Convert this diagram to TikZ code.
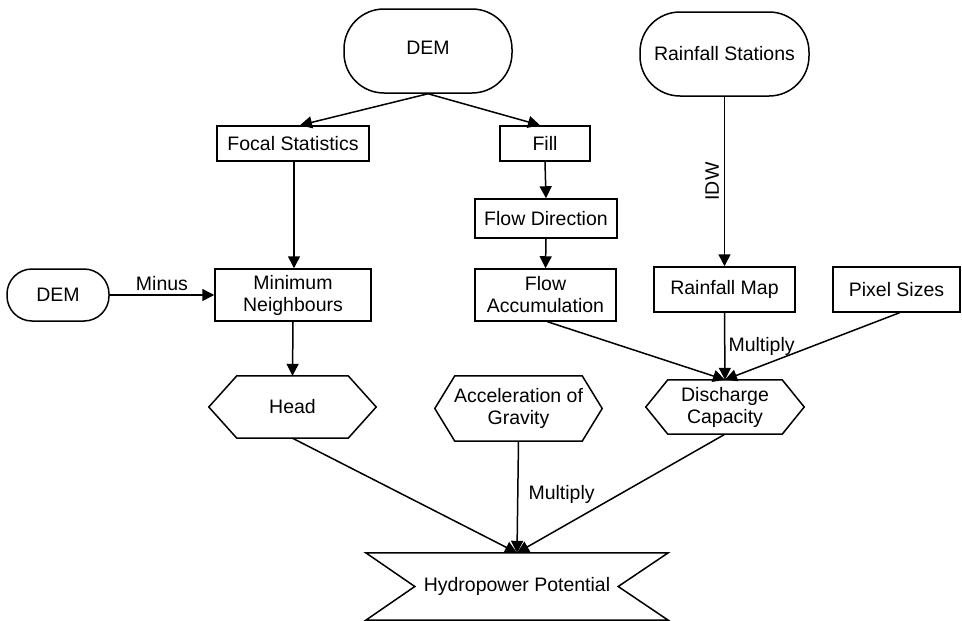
\documentclass[tikz,border=0pt]{standalone}
\usepackage{fontspec}
\setmainfont{Liberation Sans}
\usetikzlibrary{arrows.meta,calc}
\begin{document}
\begin{tikzpicture}[x=1pt,y=-1pt,
  every node/.style={font=\fontsize{19.5}{22}\selectfont, align=center, inner sep=0pt},
  term/.style={draw, line width=1.5pt, rounded corners=#1},
  box/.style={draw, line width=1.5pt, rectangle},
  hexa/.style={line width=1.5pt},
  conn/.style={line width=1.5pt, -{Triangle[length=12pt,width=12pt]}}
]
\useasboundingbox[fill=white] (0,0) rectangle (962,621);

% terminals
\node[term=40pt, minimum width=168pt, minimum height=84pt] (dem) at (428,51) {\raisebox{6pt}{DEM}};
\node[term=40pt, minimum width=169pt, minimum height=84pt] (rs) at (724.5,54) {Rainfall Stations};
\node[term=25pt, minimum width=102pt, minimum height=52pt] (demb) at (58,295) {DEM};

% boxes
\node[box, minimum width=152pt, minimum height=35pt] (focal) at (293,143.5) {Focal Statistics};
\node[box, minimum width=90pt, minimum height=35pt] (fill) at (545,143.5) {Fill};
\node[box, minimum width=142pt, minimum height=39pt] (fdir) at (546,218.5) {Flow Direction};
\node[box, minimum width=156pt, minimum height=52pt] (minn) at (293,295) {Minimum\\Neighbours};
\node[box, minimum width=141pt, minimum height=52pt] (facc) at (545.5,295) {Flow\\Accumulation};
\node[box, minimum width=141pt, minimum height=45pt] (rmap) at (724.5,289.5) {Rainfall Map};
\node[box, minimum width=127pt, minimum height=45pt] (pix) at (896.5,289.5) {Pixel Sizes};

% hexagons
\node[minimum width=167pt, minimum height=62pt] (head) at (292.5,407) {Head};
\node[minimum width=167pt, minimum height=65pt] (acc) at (518.5,408.5) {Acceleration of\\Gravity};
\node[minimum width=158pt, minimum height=54pt] (dc) at (725,407) {Discharge\\Capacity};
\foreach \n/\d in {head/28, acc/20, dc/22}{
  \draw[hexa] (\n.west) -- ([xshift=\d pt]\n.north west) -- ([xshift=-\d pt]\n.north east)
    -- (\n.east) -- ([xshift=-\d pt]\n.south east) -- ([xshift=\d pt]\n.south west) -- cycle;
}

% banner
\node[minimum width=302pt, minimum height=67pt] (hp) at (517,586.5) {Hydropower Potential};
\draw[hexa] (hp.north west) -- (hp.north east) -- ([xshift=-50pt]hp.east) -- (hp.south east)
  -- (hp.south west) -- ([xshift=49pt]hp.west) -- cycle;

% connectors
\draw[conn] (dem.south) -- ([xshift=7pt]focal.north);
\draw[conn] (dem.south) -- ([xshift=-5pt]fill.north);
\draw[conn] (fill.south) -- (fdir.north);
\draw[conn] (fdir.south) -- (facc.north);
\draw[conn] ([xshift=1pt]focal.south) -- ([xshift=1pt]minn.north);
\draw[conn] (demb.east) -- node[above=4pt] {Minus} (minn.west);
\draw[conn] (minn.south) -- (head.north);
\draw[conn] (rs.south) -- node[pos=0.5, rotate=90, above=5pt] {IDW} (rmap.north);
\draw[conn] ([xshift=2pt]facc.south) -- (dc.north);
\draw[conn] (rmap.south) -- node[right=3pt, pos=0.5] {Multiply} (dc.north);
\draw[conn] ([xshift=3pt]pix.south) -- (dc.north);
\draw[conn] (head.south) -- (hp.north);
\draw[conn] (acc.south) -- node[right=10pt, pos=0.48] {Multiply} (hp.north);
\draw[conn] (dc.south) -- (hp.north);
\end{tikzpicture}
\end{document}
